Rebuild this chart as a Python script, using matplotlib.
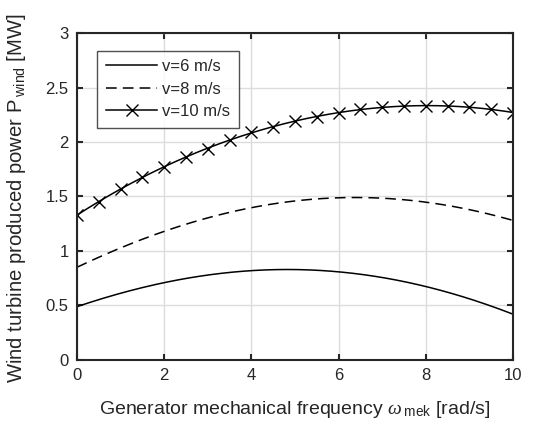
import matplotlib
matplotlib.use("Agg")
import matplotlib.pyplot as plt
import numpy as np

plt.rcParams['font.family'] = ['Liberation Sans', 'DejaVu Sans']
plt.rcParams['mathtext.fontset'] = 'custom'
plt.rcParams['mathtext.it'] = 'Liberation Serif:italic'
plt.rcParams['mathtext.rm'] = 'Liberation Sans'

x6 = [0, 1, 2, 3, 4, 5, 6, 7, 8, 9, 10]
p6 = [0.49, 0.61, 0.71, 0.78, 0.82, 0.83, 0.81, 0.75, 0.68, 0.56, 0.42]

x8 = [0, 1, 2, 3, 4, 5, 6, 6.5, 7, 8, 9, 10]
p8 = [0.85, 1.03, 1.18, 1.30, 1.40, 1.46, 1.49, 1.49, 1.48, 1.45, 1.38, 1.28]

x10 = [0, 0.5, 1, 1.5, 2, 2.5, 3, 3.5, 4, 4.5, 5, 5.5, 6, 6.5, 7, 7.5, 8, 8.5, 9, 9.5, 10]
p10 = [1.33, 1.45, 1.57, 1.68, 1.77, 1.86, 1.94, 2.02, 2.09, 2.14, 2.19, 2.23, 2.27,
       2.30, 2.32, 2.33, 2.33, 2.33, 2.32, 2.30, 2.27]

labels = ['v=6 m/s', 'v=8 m/s', 'v=10 m/s']
xticks = [0, 2, 4, 6, 8, 10]
yticks = [0, 0.5, 1, 1.5, 2, 2.5, 3]

def smooth(x, y):
    xs = np.linspace(min(x), max(x), 200)
    c = np.polyfit(x, y, 4)
    return xs, np.polyval(c, xs)

fig = plt.figure(figsize=(5.51, 4.26), dpi=100)
ax = fig.add_axes([0.1397, 0.155, 0.7913, 0.7675])

dark = '#262626'
lw = 1.1
xs, ys = smooth(x6, p6)
ax.plot(xs, ys, color='black', lw=lw, label=labels[0])
xs, ys = smooth(x8, p8)
ax.plot(xs, ys, color='black', lw=lw, dashes=(7, 4), label=labels[1])
xs, ys = smooth(x10, p10)
ax.plot(xs, ys, color='black', lw=lw)
ax.plot(x10, p10, color='black', lw=0, marker='x', ms=8, mew=1.0)
ax.plot([], [], color='black', lw=lw, marker='x', ms=8, mew=1.0, label=labels[2])

ax.set_xlim(0, 10)
ax.set_ylim(0, 3)
ax.set_xticks(xticks)
ax.set_yticks(yticks)
ax.set_xticklabels(['0', '2', '4', '6', '8', '10'])
ax.set_yticklabels(['0', '0.5', '1', '1.5', '2', '2.5', '3'])
ax.grid(True, color='#dcdcdc', lw=1.0)
ax.set_axisbelow(True)
ax.tick_params(direction='in', top=True, right=True, length=4, width=1.5,
               colors=dark, labelsize=12, pad=6)
for s in ax.spines.values():
    s.set_color(dark)
    s.set_linewidth(1.5)

ax.set_xlabel(r'Generator mechanical frequency $\omega_{\;\mathrm{mek}}$ [rad/s]',
              fontsize=14, color=dark, labelpad=11)
ax.set_ylabel(r'Wind turbine produced power P$_{\;\mathrm{wind}}$ [MW]',
              fontsize=14.6, color=dark)
ax.yaxis.set_label_coords(-0.113, 0.495)

leg = ax.legend(loc='upper left', bbox_to_anchor=(0.047, 0.945), fontsize=12,
                frameon=True, fancybox=False, handlelength=3.1, handletextpad=0.3,
                borderpad=0.5, labelspacing=0.45, borderaxespad=0)
leg.get_frame().set_edgecolor(dark)
leg.get_frame().set_linewidth(1.0)
for t in leg.get_texts():
    t.set_color(dark)

fig.savefig('out.png', dpi=100)
